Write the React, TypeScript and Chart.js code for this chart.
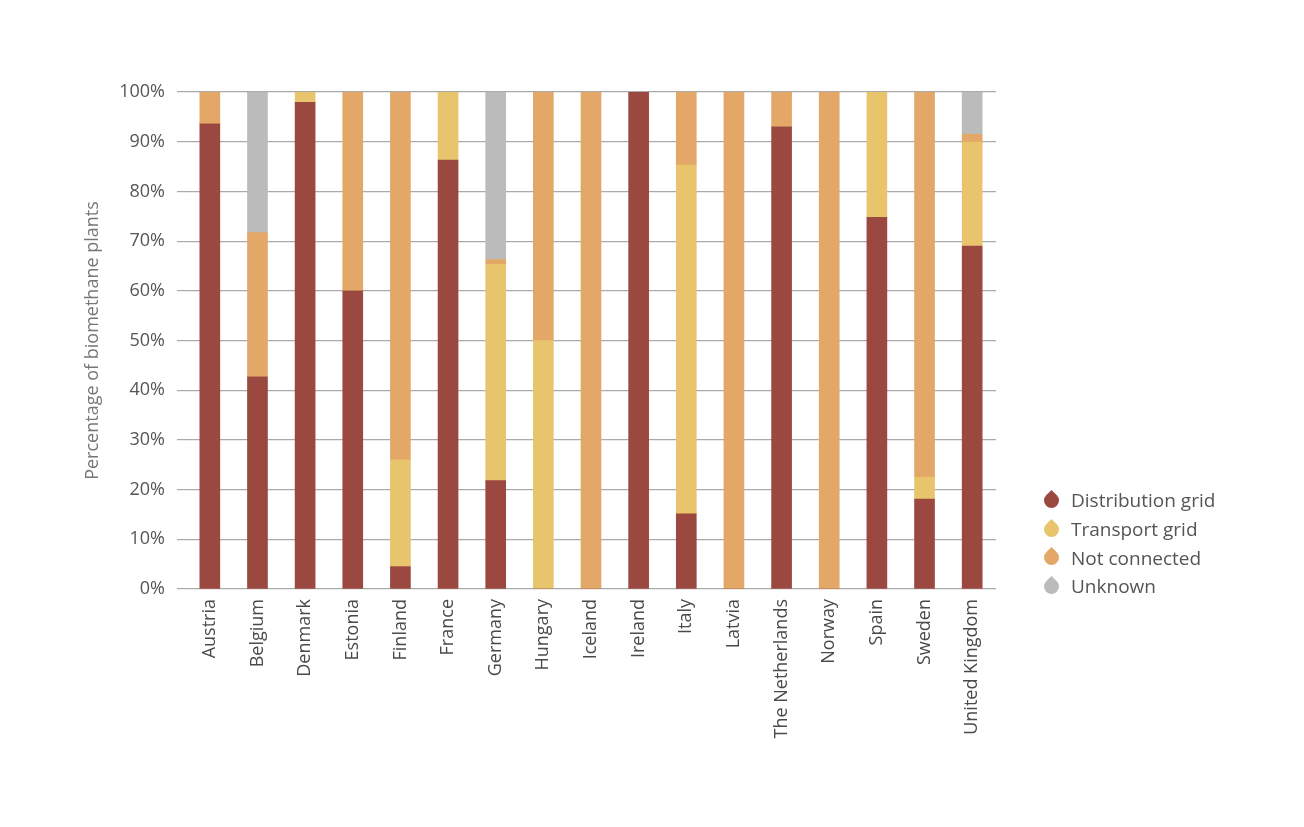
import React, { useEffect, useRef } from "react";
import { Chart, registerables } from "chart.js";

Chart.register(...registerables);

const categories = [
  "Austria", "Belgium", "Denmark", "Estonia", "Finland", "France", "Germany", "Hungary",
  "Iceland", "Ireland", "Italy", "Latvia", "The Netherlands", "Norway", "Spain", "Sweden", "United Kingdom",
];
const distributionGrid = [93.6, 42.7, 97.9, 60, 4.5, 86.3, 21.8, 0, 0, 100, 15.1, 0, 93, 0, 74.8, 18.1, 69];
const transportGrid = [0, 0, 2.1, 0, 21.5, 13.7, 43.5, 50, 0, 0, 70.2, 0, 0, 0, 25.2, 4.4, 20.9];
const notConnected = [6.4, 29, 0, 40, 74, 0, 1, 50, 100, 0, 14.7, 100, 7, 100, 0, 77.5, 1.6];
const unknown = [0, 28.3, 0, 0, 0, 0, 33.7, 0, 0, 0, 0, 0, 0, 0, 0, 0, 8.5];
const yTicks = [0, 10, 20, 30, 40, 50, 60, 70, 80, 90, 100];

const seriesNames = ["Distribution grid", "Transport grid", "Not connected", "Unknown"];
const seriesColors = ["#9B4841", "#E8C46C", "#E3A767", "#BBBBBB"];

const FONT = "'Open Sans', sans-serif";

export default function App() {
  const ref = useRef<HTMLCanvasElement | null>(null);

  useEffect(() => {
    document.body.style.margin = "0";
    if (!ref.current) return;
    const values = [distributionGrid, transportGrid, notConnected, unknown];
    const chart = new Chart(ref.current, {
      type: "bar",
      data: {
        labels: categories,
        datasets: values.map((d, i) => ({
          label: seriesNames[i],
          data: d,
          backgroundColor: seriesColors[i],
          borderWidth: 0,
          barThickness: 20,
        })),
      },
      options: {
        animation: false,
        responsive: false,
        maintainAspectRatio: false,
        layout: { padding: { left: 82, right: 308, top: 92, bottom: 0 } },
        plugins: { legend: { display: false }, tooltip: { enabled: false } },
        scales: {
          x: {
            stacked: true,
            grid: { display: false, drawTicks: false },
            border: { display: false },
            ticks: {
              minRotation: 90,
              maxRotation: 90,
              padding: 10,
              color: "#4a4a4a",
              font: { family: FONT, size: 18 },
              autoSkip: false,
            },
            afterFit: (s: any) => {
              s.height = 238;
            },
          },
          y: {
            stacked: true,
            min: 0,
            max: 100,
            afterBuildTicks: (s: any) => {
              s.ticks = yTicks.map((v) => ({ value: v }));
            },
            grid: { color: "#aaaaaa", lineWidth: 1.2, drawTicks: true, tickLength: 9 },
            border: { display: false },
            ticks: {
              padding: 12,
              color: "#555555",
              font: { family: FONT, size: 18 },
              callback: (v: any) => v + "%",
            },
            title: {
              display: true,
              text: "Percentage of biomethane plants",
              color: "#777777",
              font: { family: FONT, size: 18 },
              padding: 0,
            },
            afterFit: (s: any) => {
              s.width = 104;
            },
          },
        },
      },
    });
    return () => chart.destroy();
  }, []);

  return (
    <div style={{ position: "relative", width: 1304, height: 827, background: "#fff" }}>
      <canvas ref={ref} width={1304} height={827} style={{ position: "absolute", left: 0, top: 0 }} />
      <div style={{ position: "absolute", left: 1044, top: 486, fontFamily: FONT, fontSize: 19, color: "#555555" }}>
        {seriesNames.map((n, i) => (
          <div key={n} style={{ display: "flex", alignItems: "center", height: 28.7 }}>
            <span
              style={{
                display: "inline-block",
                width: 15,
                height: 15,
                borderRadius: "50% 0 50% 50%",
                transform: "rotate(-45deg)",
                background: seriesColors[i],
                marginRight: 12,
              }}
            />
            <span>{n}</span>
          </div>
        ))}
      </div>
    </div>
  );
}
